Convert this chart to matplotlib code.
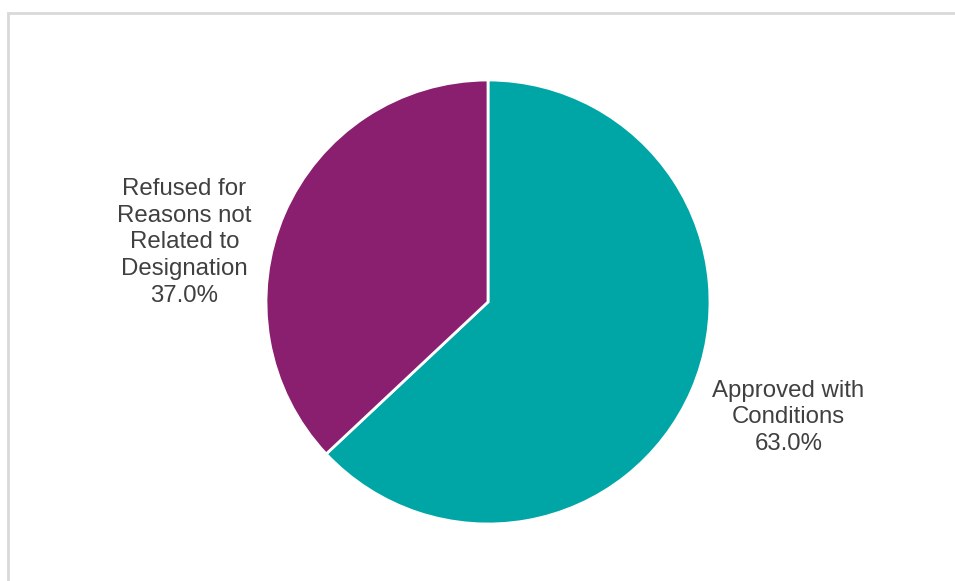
import matplotlib.pyplot as plt
import numpy as np
from matplotlib.patches import Rectangle

# data
labels = ["Approved with\nConditions", "Refused for\nReasons not\nRelated to\nDesignation"]
shares = [63.0, 37.0]
colors = ["#00A6A6", "#8A1E6F"]
# label positions (radius, angle in degrees)
label_pos = [(1.45, -21.0), (1.394, 168.9)]

plt.rcParams['font.family'] = ['Liberation Sans', 'DejaVu Sans']

fig = plt.figure(figsize=(9.55, 5.81), dpi=100)

# light grey chart frame (only top/left visible)
fig.patches.append(Rectangle((7.5 / 955, -0.1), 1.2, (581 - 13) / 581 + 0.1,
                             transform=fig.transFigure, fill=False,
                             edgecolor="#D9D9D9", linewidth=2))

ax = fig.add_axes([(488 - 222) / 955, (279 - 222) / 581, 444 / 955, 444 / 581])
wedges, _ = ax.pie(shares, colors=colors, startangle=90, counterclock=False,
                   wedgeprops=dict(edgecolor="white", linewidth=2))
ax.set_xlim(-1, 1)
ax.set_ylim(-1, 1)
ax.set_aspect("equal")
ax.axis("off")

for lab, val, (r, a) in zip(labels, shares, label_pos):
    t = np.deg2rad(a)
    ax.text(r * np.cos(t), r * np.sin(t), f"{lab}\n{val:.1f}%",
            ha="center", va="center", fontsize=17.3, color="#404040",
            linespacing=1.28, clip_on=False)

fig.savefig("out.png", dpi=100)
